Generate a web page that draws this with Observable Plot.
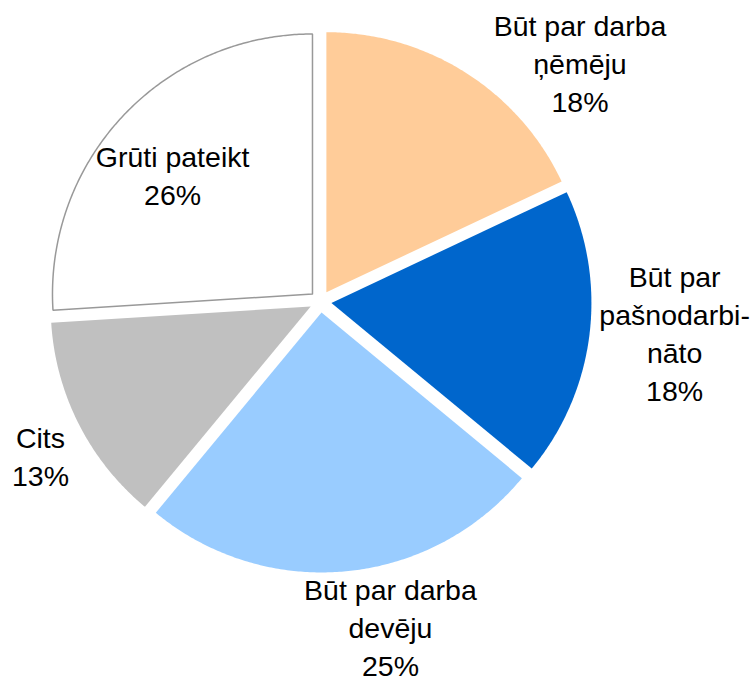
<!DOCTYPE html>
<html><head><meta charset="utf-8">
<script src="https://cdn.jsdelivr.net/npm/d3@7"></script>
<script src="https://cdn.jsdelivr.net/npm/@observablehq/plot@0.6"></script>
<style>body{margin:0;background:#fff}</style>
</head><body><div id="chart"></div>
<script>
// ---- data ----
const categories = ["Būt par darba ņēmēju", "Būt par pašnodarbināto", "Būt par darba devēju", "Cits", "Grūti pateikt"];
const values = [18, 18, 25, 13, 26];
const labelTexts = ["Būt par darba\nņēmēju", "Būt par\npašnodarbi-\nnāto", "Būt par darba\ndevēju", "Cits", "Grūti pateikt"];
const colors = ["#FFCC99", "#0066CC", "#99CCFF", "#C0C0C0", "#FFFFFF"];

// ---- layout ----
const W = 754, H = 678;
const cx = 320, cy = 301, R = 260;
const explode = 11 / R;
// label anchors in pie-radius units (y up)
const labelX = [0.998, 1.362, 0.269, -1.077, -0.569];
const labelY = [0.921, -0.117, -1.248, -0.588, 0.490];

const total = d3.sum(values);
let acc = 0;
const slices = values.map((v, i) => {
  const a0 = acc / total * 2 * Math.PI; acc += v;
  const a1 = acc / total * 2 * Math.PI;
  return {i, a0, a1, mid: (a0 + a1) / 2};
});
function slicePoints(s) {
  const ox = explode * Math.sin(s.mid), oy = explode * Math.cos(s.mid);
  const pts = [{x: ox, y: oy}];
  const n = Math.max(2, Math.ceil((s.a1 - s.a0) / (Math.PI / 360)));
  for (let k = 0; k <= n; k++) {
    const a = s.a0 + (s.a1 - s.a0) * k / n;
    pts.push({x: ox + Math.sin(a), y: oy + Math.cos(a)});
  }
  pts.push({x: ox, y: oy});
  return pts;
}

const sliceMarks = slices.map(s => Plot.line(slicePoints(s), {
  x: "x", y: "y",
  fill: colors[s.i],
  stroke: colors[s.i] === "#FFFFFF" ? "#999999" : "none",
  strokeWidth: 1.5,
  strokeLinejoin: "miter",
  curve: "linear"
}));

const labels = values.map((v, i) => ({
  x: labelX[i], y: labelY[i], text: labelTexts[i] + "\n" + v + "%", cat: categories[i]
}));

const chart = Plot.plot({
  width: W, height: H,
  margin: 0,
  x: {domain: [-cx / R, (W - cx) / R], range: [0, W], axis: null},
  y: {domain: [-(H - cy) / R, cy / R], range: [H, 0], axis: null},
  style: {fontFamily: "'Liberation Sans', Arial, sans-serif", background: "#fff"},
  marks: [
    ...sliceMarks,
    Plot.text(labels, {x: "x", y: "y", text: "text", fontSize: 28.5, lineHeight: 1.333, fill: "#000", textAnchor: "middle"})
  ]
});
document.getElementById("chart").appendChild(chart);
</script>
</body></html>
